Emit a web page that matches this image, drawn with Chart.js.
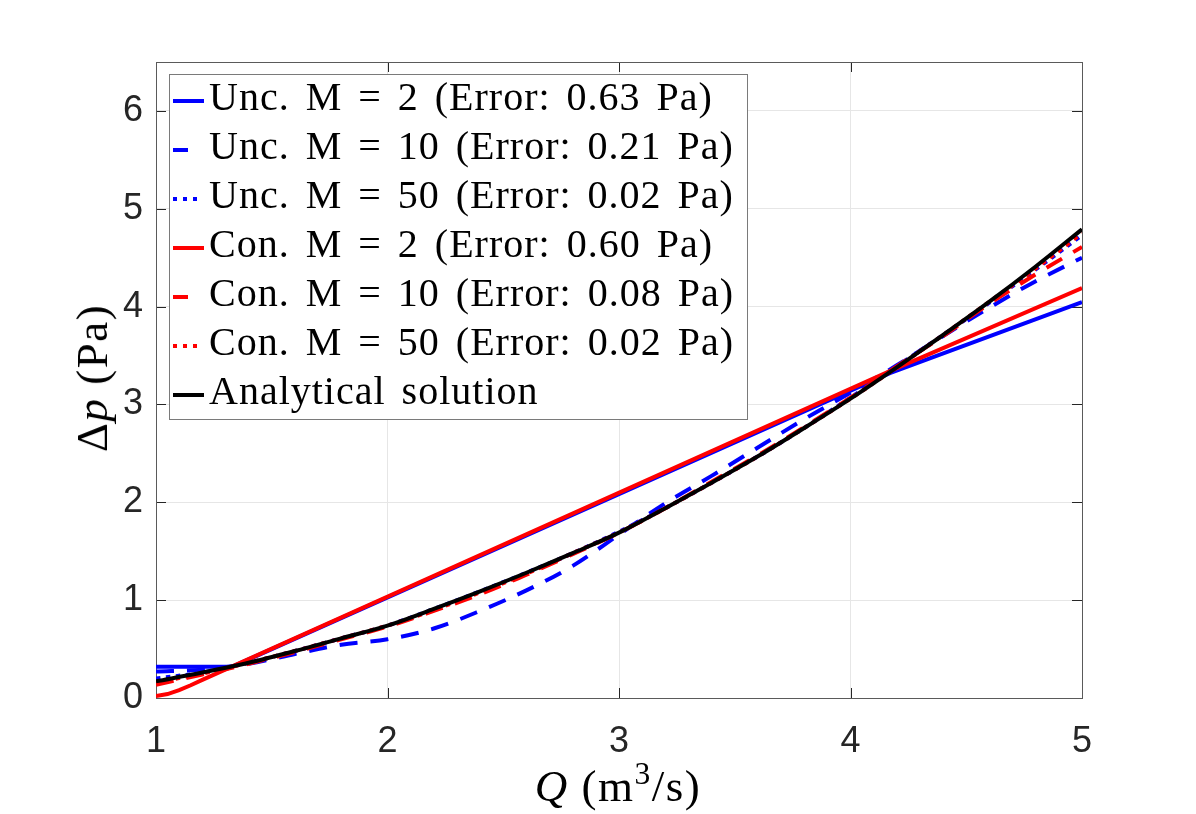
<!DOCTYPE html>
<html>
<head>
<meta charset="utf-8">
<script src="https://cdn.jsdelivr.net/npm/chart.js@4.4.1/dist/chart.umd.min.js"></script>
<style>
  html, body { margin: 0; padding: 0; background: #fff; }
  #wrap { position: relative; width: 1196px; height: 814px; overflow: hidden; }
  #chart { position: absolute; left: 0; top: 0; }
  #legend {
    position: absolute; left: 169px; top: 74px; width: 579px; height: 346px;
    box-sizing: border-box; border: 1px solid #7a7a7a; background: #fff;
    font-family: "Liberation Serif", "Times New Roman", serif; font-size: 40px; color: #000;
  }
  #legend .row { position: absolute; left: 39px; line-height: 49px; white-space: pre;
    letter-spacing: 1px; word-spacing: 5px; }
  #legend .mark { position: absolute; left: 3px; height: 4px; }
  .axlab { position: absolute; white-space: nowrap; color: #000;
    font-family: "Liberation Serif", "Times New Roman", serif; font-size: 45px; letter-spacing: 1.5px; }
  .axlab sup { font-size: 0.7em; vertical-align: 0; position: relative; top: -0.55em; }
</style>
</head>
<body>
<div id="wrap">
  <canvas id="chart" width="1196" height="814"></canvas>
  <div id="legend"></div>
  <div class="axlab" id="ylab" style="left:92px; top:378px; transform: translate(-50%,-50%) rotate(-90deg);">Δ<i>p</i> (Pa)</div>
  <div class="axlab" id="xlab" style="left:618px; top:786px; transform: translate(-50%,-50%);"><i>Q</i> (m<sup>3</sup>/s)</div>
</div>
<script>
// tick values
const qTicks = [1, 2, 3, 4, 5];
const pTicks = [0, 1, 2, 3, 4, 5, 6];

// legend labels
const labels = [
  'Unc. M = 2 (Error: 0.63 Pa)',
  'Unc. M = 10 (Error: 0.21 Pa)',
  'Unc. M = 50 (Error: 0.02 Pa)',
  'Con. M = 2 (Error: 0.60 Pa)',
  'Con. M = 10 (Error: 0.08 Pa)',
  'Con. M = 50 (Error: 0.02 Pa)',
  'Analytical solution'
];

// M = 2 solutions (piecewise)
const qUnc2 = [1, 1.33, 4.17, 5];
const pUnc2 = [0.32, 0.32, 3.32, 4.045];
const qCon2 = [1, 1.05, 1.1, 1.15, 1.2, 4.17, 5];
const pCon2 = [0.02, 0.04, 0.08, 0.13, 0.185, 3.34, 4.19];

// finer solutions, read on a common Q grid
const qFine = [1, 1.2, 1.4, 1.6, 1.8, 2, 2.2, 2.4, 2.6, 2.8, 3, 3.2, 3.4, 3.6, 3.8, 4, 4.2, 4.4, 4.6, 4.8, 5];
const pUnc10 = [0.27, 0.29, 0.35, 0.45, 0.545, 0.60, 0.71, 0.89, 1.10, 1.35, 1.67, 1.99, 2.27, 2.56, 2.85, 3.12, 3.40, 3.70, 3.99, 4.26, 4.50];
const pUnc50 = [0.20, 0.26, 0.36, 0.48, 0.61, 0.74, 0.91, 1.09, 1.28, 1.48, 1.70, 1.94, 2.20, 2.47, 2.76, 3.07, 3.39, 3.71, 4.04, 4.38, 4.73];
const pCon10 = [0.135, 0.24, 0.35, 0.47, 0.60, 0.73, 0.89, 1.06, 1.26, 1.47, 1.69, 1.94, 2.21, 2.48, 2.77, 3.07, 3.39, 3.70, 4.03, 4.33, 4.61];
const pCon50 = [0.16, 0.25, 0.36, 0.48, 0.61, 0.74, 0.90, 1.08, 1.27, 1.48, 1.69, 1.94, 2.20, 2.47, 2.76, 3.06, 3.38, 3.71, 4.05, 4.39, 4.75];
const pExact = [0.17, 0.26, 0.36, 0.48, 0.61, 0.74, 0.91, 1.09, 1.28, 1.48, 1.69, 1.94, 2.20, 2.47, 2.76, 3.06, 3.38, 3.71, 4.05, 4.41, 4.79];

const pts = (xs, ys) => xs.map((x, i) => ({ x: x, y: ys[i] }));

const DASH = [18, 13];
const DOT = [4.5, 5.5];
const styles = [
  { color: '#0000ff', dash: [] },
  { color: '#0000ff', dash: DASH },
  { color: '#0000ff', dash: DOT },
  { color: '#ff0000', dash: [] },
  { color: '#ff0000', dash: DASH },
  { color: '#ff0000', dash: DOT },
  { color: '#000000', dash: [] }
];
const series = [
  pts(qUnc2, pUnc2), pts(qFine, pUnc10), pts(qFine, pUnc50),
  pts(qCon2, pCon2), pts(qFine, pCon10), pts(qFine, pCon50),
  pts(qFine, pExact)
];
const smooth = [false, true, true, false, true, true, true];

const datasets = series.map((d, i) => ({
  label: labels[i],
  data: d,
  borderColor: styles[i].color,
  borderDash: styles[i].dash,
  borderWidth: 4,
  pointRadius: 0,
  fill: false,
  tension: 0,
  cubicInterpolationMode: smooth[i] ? 'monotone' : 'default',
  order: labels.length - i
}));

// box with inward ticks, like matlab
const AXC = '#262626';
const framePlugin = {
  id: 'frame',
  beforeDatasetsDraw(chart) {
    const { ctx, chartArea: a, scales } = chart;
    ctx.save();
    ctx.strokeStyle = AXC;
    ctx.lineWidth = 1;
    ctx.beginPath();
    qTicks.forEach(v => {
      const x = Math.round(scales.x.getPixelForValue(v)) + 0.5;
      ctx.moveTo(x, a.bottom); ctx.lineTo(x, a.bottom - 10);
      ctx.moveTo(x, a.top); ctx.lineTo(x, a.top + 10);
    });
    pTicks.forEach(v => {
      const y = Math.round(scales.y.getPixelForValue(v)) + 0.5;
      ctx.moveTo(a.left, y); ctx.lineTo(a.left + 10, y);
      ctx.moveTo(a.right, y); ctx.lineTo(a.right - 10, y);
    });
    ctx.stroke();
    ctx.strokeStyle = '#5a5a5a';
    ctx.strokeRect(a.left + 0.5, a.top + 0.5, a.right - a.left, a.bottom - a.top);
    ctx.restore();
  }
};

const tickFont = { family: '"Liberation Sans", Arial, sans-serif', size: 36 };

new Chart(document.getElementById('chart'), {
  type: 'line',
  data: { datasets: datasets },
  options: {
    responsive: false,
    animation: false,
    devicePixelRatio: 1,
    layout: { padding: { left: 0, top: 62, right: 114, bottom: 0 } },
    plugins: { legend: { display: false }, tooltip: { enabled: false } },
    scales: {
      x: {
        type: 'linear', min: 1, max: 5,
        afterBuildTicks: s => { s.ticks = qTicks.map(v => ({ value: v })); },
        afterFit: s => { s.height = 116; },
        grid: { color: '#e6e6e6', drawTicks: false },
        border: { display: false },
        ticks: { font: tickFont, color: AXC, padding: 22, maxRotation: 0 }
      },
      y: {
        type: 'linear', min: 0, max: 6.5,
        afterBuildTicks: s => { s.ticks = pTicks.map(v => ({ value: v })); },
        afterFit: s => { s.width = 156; },
        grid: { color: '#e6e6e6', drawTicks: false },
        border: { display: false },
        ticks: { font: tickFont, color: AXC, padding: 13 }
      }
    }
  },
  plugins: [framePlugin]
});

// legend box
const legend = document.getElementById('legend');
labels.forEach((txt, i) => {
  const row = document.createElement('div');
  row.className = 'row';
  row.style.top = (-3 + 49 * i) + 'px';
  row.textContent = txt;
  legend.appendChild(row);

  const mark = document.createElement('div');
  mark.className = 'mark';
  mark.style.top = (23.5 + 49 * i) + 'px';
  const st = styles[i];
  if (st.dash === DASH) {
    mark.style.width = '15px';
    mark.style.background = st.color;
  } else if (st.dash === DOT) {
    mark.style.width = '28px';
    mark.style.background = 'repeating-linear-gradient(to right, ' + st.color + ' 0 4.5px, transparent 4.5px 10px)';
  } else {
    mark.style.width = '31px';
    mark.style.background = st.color;
  }
  legend.appendChild(mark);
});
</script>
</body>
</html>
